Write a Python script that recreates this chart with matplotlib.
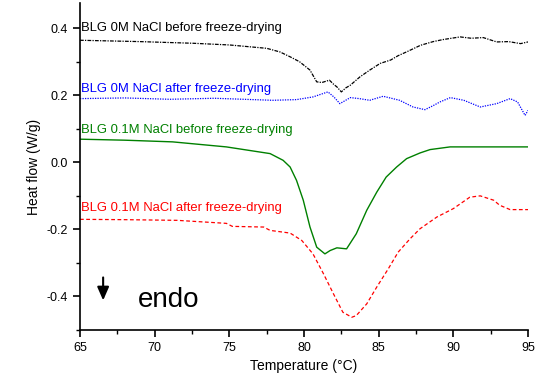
import matplotlib
matplotlib.use("Agg")
import matplotlib.pyplot as plt
from matplotlib.ticker import MultipleLocator

plt.rcParams['font.family'] = ['Liberation Sans', 'DejaVu Sans']

# 0M NaCl before freeze-drying (black)
t_black = [65, 67, 69, 72.6, 75, 77.5, 78.4, 79.1, 79.7, 80.4, 80.85, 81.2, 81.7, 82.0, 82.2, 82.5,
           82.8, 83.1, 83.75, 84.4, 85.1, 85.8, 86.3, 86.9, 87.8, 88.65, 89.3, 90.45, 91.2, 92.0,
           92.9, 93.7, 94.5, 95]
v_black = [0.364, 0.362, 0.36, 0.355, 0.35, 0.34, 0.329, 0.314, 0.30, 0.275, 0.24, 0.238, 0.245, 0.232, 0.225, 0.21,
           0.222, 0.23, 0.255, 0.275, 0.295, 0.305, 0.318, 0.33, 0.349, 0.36, 0.366, 0.374, 0.37, 0.372,
           0.359, 0.36, 0.354, 0.359]

# 0M NaCl after freeze-drying (blue)
t_blue = [65, 68, 71, 74, 77.9, 79.5, 80.6, 81.6, 82.0, 82.4, 83.1, 83.7, 84.4, 85.3, 86.4, 87.3, 88.1,
          88.6, 89.1, 89.8, 90.7, 91.8, 92.9, 93.8, 94.3, 94.8, 95]
v_blue = [0.19, 0.192, 0.188, 0.191, 0.185, 0.187, 0.195, 0.21, 0.195, 0.175, 0.193, 0.19, 0.185, 0.197, 0.185, 0.165, 0.157,
          0.168, 0.18, 0.193, 0.185, 0.165, 0.175, 0.19, 0.18, 0.14, 0.155]

# 0.1M NaCl before freeze-drying (green)
t_green = [65, 68, 71.2, 74.8, 77, 77.73, 78.6, 79.07, 79.5, 79.95, 80.4, 80.85, 81.4, 81.75, 82.2, 82.85,
           83.5, 84.2, 84.87, 85.5, 86.2, 86.87, 87.77, 88.44, 89.78, 95]
v_green = [0.069, 0.066, 0.061, 0.046, 0.031, 0.026, 0.006, -0.014, -0.054, -0.113, -0.193, -0.253, -0.273, -0.263, -0.255, -0.258,
           -0.213, -0.143, -0.089, -0.044, -0.014, 0.011, 0.028, 0.038, 0.046, 0.046]

# 0.1M NaCl after freeze-drying (red)
t_red = [65, 68, 71.5, 74.8, 75.2, 77.3, 77.73, 79.07, 79.85, 80.6, 81.3, 81.97, 82.6, 83.2, 83.5, 84.2,
         84.87, 85.65, 86.3, 87.1, 87.77, 88.9, 90.0, 91.1, 91.8, 92.7, 93.1, 93.8, 95]
v_red = [-0.17, -0.171, -0.173, -0.182, -0.191, -0.193, -0.203, -0.211, -0.233, -0.273, -0.332, -0.392, -0.447, -0.462, -0.457, -0.422,
         -0.372, -0.317, -0.268, -0.228, -0.198, -0.163, -0.138, -0.104, -0.10, -0.113, -0.128, -0.141, -0.141]

labels = ["BLG 0M NaCl before freeze-drying", "BLG 0M NaCl after freeze-drying",
          "BLG 0.1M NaCl before freeze-drying", "BLG 0.1M NaCl after freeze-drying"]
label_y = [0.4, 0.22, 0.095, -0.135]

fig = plt.figure(figsize=(5.35, 3.8), dpi=100)
ax = fig.add_axes([0.1495, 0.1316, 0.8375, 0.8604])

ax.plot(t_black, v_black, color='black', lw=0.9, ls=(0, (3, 1, 1, 1)))
ax.plot(t_blue, v_blue, color='#0000ff', lw=0.9, ls=(0, (1, 1)))
ax.plot(t_green, v_green, color='#008000', lw=1.0, ls='-')
ax.plot(t_red, v_red, color='#ff0000', lw=0.9, ls=(0, (3, 2)))

colors = ['black', '#0000ff', '#008000', '#ff0000']
for lab, y, c in zip(labels, label_y, colors):
    ax.text(65.05, y, lab, color=c, fontsize=9.4, va='center', ha='left')

ax.annotate('', xy=(66.55, -0.42), xytext=(66.55, -0.335),
            arrowprops=dict(arrowstyle='-|>,head_width=0.35,head_length=0.8', color='black', lw=1.5))
ax.text(68.9, -0.41, 'endo', fontsize=20, va='center', ha='left')

ax.set_xlim(65, 95)
ax.set_ylim(-0.5, 0.475)
ax.xaxis.set_major_locator(MultipleLocator(5))
ax.xaxis.set_minor_locator(MultipleLocator(2.5))
ax.yaxis.set_major_locator(MultipleLocator(0.2))
ax.yaxis.set_minor_locator(MultipleLocator(0.1))
ax.yaxis.set_major_formatter(matplotlib.ticker.FormatStrFormatter('%.1f'))
ax.spines['top'].set_visible(False)
ax.spines['right'].set_visible(False)
ax.spines['left'].set_linewidth(1.2)
ax.spines['bottom'].set_linewidth(1.2)
ax.tick_params(which='major', direction='out', length=5, width=1.2, labelsize=9)
ax.tick_params(which='minor', direction='out', length=3, width=1.0)
ax.set_xlabel('Temperature (°C)', fontsize=10)
ax.set_ylabel('Heat flow (W/g)', fontsize=10)

fig.savefig('out.png', dpi=100)
